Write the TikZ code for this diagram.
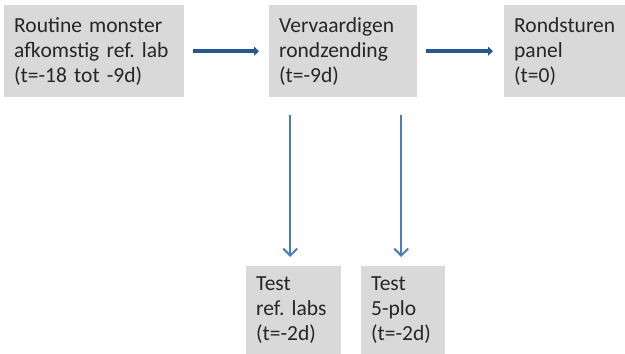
\documentclass[tikz,border=0pt]{standalone}
\usepackage{fontspec}
\setmainfont{Carlito}[WordSpace=0.75]
\usetikzlibrary{arrows.meta,positioning}
\definecolor{boxgrey}{HTML}{D9D9D9}
\definecolor{darkarrow}{HTML}{25588E}
\definecolor{lightarrow}{HTML}{4A7EBB}
\tikzset{
  stepbox/.style={fill=boxgrey, anchor=north west, align=left, inner xsep=10pt,
    font=\fontsize{21.5}{25}\selectfont, text=black!85},
  harrow/.style={line width=4.5pt, color=darkarrow, -{Triangle[length=5pt,width=9pt]}},
  varrow/.style={line width=2pt, color=lightarrow, -{Straight Barb[length=7pt,width=14pt]}}
}
\frenchspacing

\begin{document}
\begin{tikzpicture}[x=1pt, y=-1pt]
			%%%%% START %%%%%
			\useasboundingbox (0, 0) rectangle (625, 354);
			
			\node[stepbox, minimum width=180pt, minimum height=92pt, text width=160pt] (afkomst) at (4, 5)
				{Routine monster\\afkomstig ref. lab\\(t=-18 tot -9d)};
			\node[stepbox, minimum width=148pt, minimum height=92pt, text width=128pt] (vervaardigen) at (269, 5)
				{Vervaardigen\\rondzending\\(t=-9d)};
			\node[stepbox, minimum width=121pt, minimum height=92pt, text width=101pt] (rondsturen) at (504, 5)
				{Rondsturen\\panel\\(t=0)};
			
			\node[stepbox, minimum width=95pt, minimum height=88pt, text width=75pt] (testref) at (246, 266)
				{Test\\ref. labs\\(t=-2d)};
			\node[stepbox, minimum width=84pt, minimum height=88pt, text width=64pt] (testplo) at (361, 266)
				{Test\\5-plo\\(t=-2d)};
			
			\draw[harrow, shorten <=9pt, shorten >=10pt] (afkomst.east) -- (afkomst.east -| vervaardigen.west);
			\draw[harrow, shorten <=9pt, shorten >=11pt] (vervaardigen.east) -- (vervaardigen.east -| rondsturen.west);
			
			\draw[varrow, shorten <=18pt, shorten >=9pt] ([xshift=-3.5pt]testref.north |- vervaardigen.south) -- ([xshift=-3.5pt]testref.north);
			\draw[varrow, shorten <=18pt, shorten >=9pt] ([xshift=-2pt]testplo.north |- vervaardigen.south) -- ([xshift=-2pt]testplo.north);
			
			%%%%% END %%%%%
		\end{tikzpicture}
\end{document}
